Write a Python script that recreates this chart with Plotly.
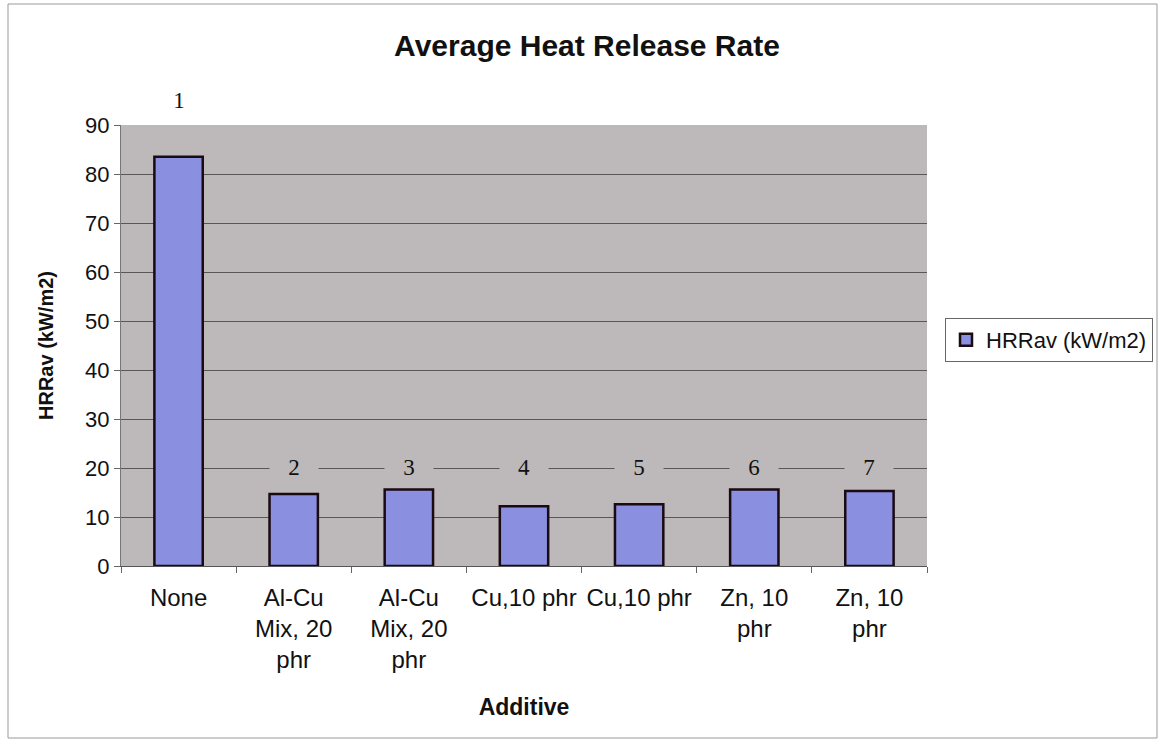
import plotly.graph_objects as go

categories = ["None", "Al-Cu<br>Mix, 20<br>phr", "Al-Cu<br>Mix, 20<br>phr", "Cu,10 phr",
              "Cu,10 phr", "Zn, 10<br>phr", "Zn, 10<br>phr"]
cat_ids = ["c1", "c2", "c3", "c4", "c5", "c6", "c7"]
hrr_values = [83.5, 14.7, 15.6, 12.2, 12.6, 15.6, 15.3]
sample_labels = ["1", "2", "3", "4", "5", "6", "7"]
y_ticks = [0, 10, 20, 30, 40, 50, 60, 70, 80, 90]

plot_bg = "#bdb8ba"
bar_color = "#8b8fe0"
y_max = 90

fig = go.Figure()
fig.add_trace(go.Bar(
    x=cat_ids, y=hrr_values, name="HRRav (kW/m2)",
    marker=dict(color=bar_color, line=dict(color="#1a0a12", width=2.5)),
    width=0.42,
))

annotations = []
for cid, lab, v in zip(cat_ids, sample_labels, hrr_values):
    high = v > 20
    ylev = (95.2 if high else 20.2) / y_max
    annotations.append(dict(
        x=cid, y=ylev, xref="x", yref="paper", text=lab, showarrow=False,
        font=dict(family="Liberation Serif, Times New Roman, serif", size=23, color="#111"),
        bgcolor=("rgba(0,0,0,0)" if high else plot_bg), width=46, height=22,
        yanchor="middle",
    ))

fig.update_layout(
    width=1159, height=744,
    margin=dict(l=121, r=232, t=125, b=178, autoexpand=False),
    paper_bgcolor="white", plot_bgcolor=plot_bg,
    font=dict(family="Liberation Sans, Arial, sans-serif", size=22, color="#111"),
    title=dict(text="<b>Average Heat Release Rate</b>", x=587/1159, xanchor="center",
               y=1-45/744, yanchor="middle", font=dict(size=30, color="#111")),
    showlegend=True,
    legend=dict(x=(945-121)/806, xanchor="left", y=(566-340)/441, yanchor="middle",
                bordercolor="#666", borderwidth=1, bgcolor="white",
                font=dict(size=22), itemwidth=30, tracegroupgap=0),
    annotations=annotations,
)
fig.update_xaxes(
    type="category", categoryorder="array", categoryarray=cat_ids,
    tickmode="array", tickvals=cat_ids, ticktext=categories,
    tickson="boundaries", ticks="outside", ticklen=6, tickcolor="#666",
    ticklabelstandoff=10,
    showline=True, linecolor="#555", linewidth=1, showgrid=False,
    title=dict(text="<b>Additive</b>", font=dict(size=23), standoff=26),
    tickfont=dict(size=24),
)
fig.update_yaxes(
    range=[0, y_max], tickmode="array", tickvals=y_ticks,
    ticks="outside", ticklen=6, tickcolor="#666",
    showline=True, linecolor="#777", linewidth=1,
    showgrid=True, gridcolor="#5a5557", gridwidth=1, zeroline=False,
    title=dict(text="<b>HRRav (kW/m2)</b>", font=dict(size=20), standoff=26),
    tickfont=dict(size=22),
)
# outer chart frame
fig.add_shape(type="rect", xref="paper", yref="paper",
              x0=(8-121)/806, x1=(1157-121)/806, y0=(566-738)/441, y1=(566-4)/441,
              line=dict(color="#999", width=1), layer="below")
fig.write_html("out.html")
